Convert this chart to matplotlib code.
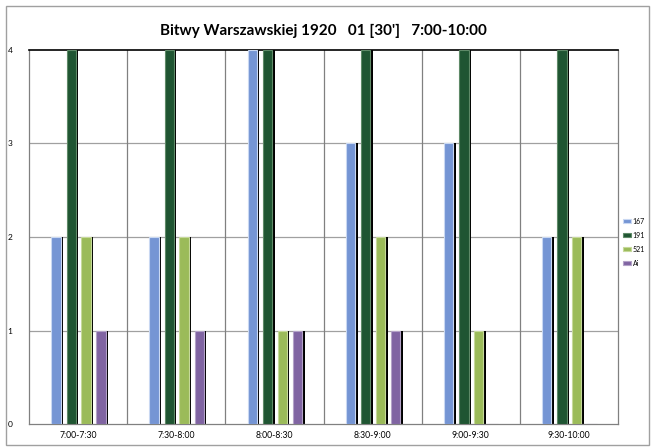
import numpy as np
import matplotlib
matplotlib.use("Agg")
import matplotlib.pyplot as plt
from matplotlib.patches import Rectangle

# data
categories = ["7:00-7:30", "7:30-8:00", "8:00-8:30", "8:30-9:00", "9:00-9:30", "9:30-10:00"]
series_names = ["167", "191", "521", "Ai"]
s167 = [2, 2, 4, 3, 3, 2]
s191 = [4, 4, 4, 4, 4, 4]
s521 = [2, 2, 1, 2, 1, 2]
s_ai = [1, 1, 1, 1, 0, 0]

colors = ["#7595d4", "#1f5532", "#9bbb59", "#8064a2"]
edges = ["#c9d8f2", "#5f8a68", "#c6d99a", "#b3a2c7"]

plt.rcParams["font.family"] = ["Lato", "DejaVu Sans"]

fig = plt.figure(figsize=(6.53, 4.48), dpi=100)
ax = fig.add_axes([29 / 653, 1 - 424 / 448, 589 / 653, 374 / 448])

x = np.arange(len(categories)) + 0.5
offsets = [-0.225, -0.07, 0.08, 0.235]
width = 0.095
shadow = 0.025

for vals, off, c, ec, name in zip([s167, s191, s521, s_ai], offsets, colors, edges, series_names):
    # drop shadow on the right side
    ax.bar(x + off + shadow, vals, width, color="black", zorder=2)
    ax.bar(x + off, vals, width, color=c, edgecolor=ec, linewidth=0.8, label=name, zorder=3)

ax.set_xlim(0, 6)
ax.set_ylim(0, 4)
ax.set_yticks([0, 1, 2, 3, 4])
ax.set_xticks(x)
ax.set_xticklabels(categories, fontsize=6.2)
ax.tick_params(axis="y", labelsize=6, length=0, pad=12)
ax.tick_params(axis="x", length=0, pad=5)

for v in [1, 2, 3]:
    ax.axhline(v, color="#a0a0a0", linewidth=0.9, zorder=1)
for b in range(1, 6):
    ax.axvline(b, color="#808080", linewidth=0.9, zorder=1)

for s in ["left", "bottom", "right"]:
    ax.spines[s].set_color("#808080")
    ax.spines[s].set_linewidth(0.9)
ax.spines["top"].set_color("black")
ax.spines["top"].set_linewidth(1.2)

ax.set_title("Bitwy Warszawskiej 1920   01 [30']   7:00-10:00",
             fontsize=11, fontweight="bold", pad=11)

fig.legend(loc="upper left", bbox_to_anchor=(620 / 653, 1 - 215 / 448),
           fontsize=5, frameon=False, handlelength=1.2, handleheight=0.5,
           handletextpad=0.2, labelspacing=1.0, borderaxespad=0)

fig.patches.append(Rectangle((6 / 653, 3 / 448), 643 / 653, 439 / 448,
                             transform=fig.transFigure, fill=False,
                             edgecolor="#a0a0a0", linewidth=1.0))

fig.savefig("out.png", dpi=100)
